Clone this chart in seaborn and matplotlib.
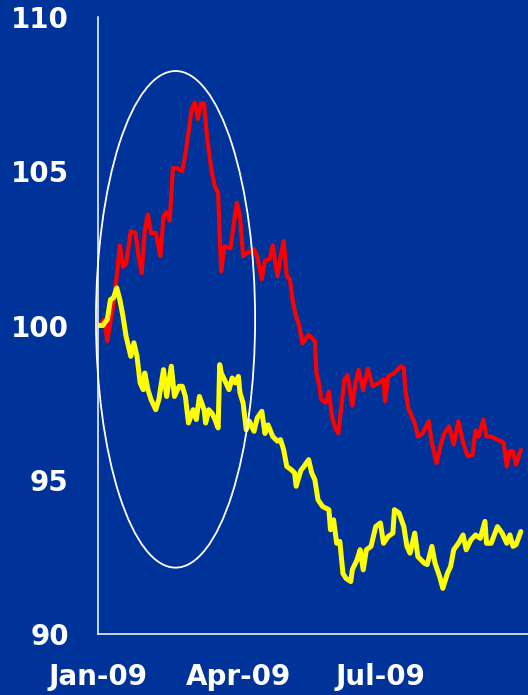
import matplotlib
matplotlib.use("Agg")
import matplotlib.pyplot as plt
import matplotlib.dates as mdates
from matplotlib.patches import Ellipse
from matplotlib.ticker import FixedLocator
import seaborn as sns
import pandas as pd

# Index levels, 2009 (start = 100)
red_dates = [
    "01-02", "01-05", "01-07", "01-11", "01-13", "01-15", "01-17", "01-19", "01-22", "01-25",
    "01-27", "01-29", "01-31", "02-02", "02-04", "02-07", "02-10", "02-12", "02-14", "02-16",
    "02-18", "02-21", "02-24", "02-26", "02-28", "03-02", "03-04", "03-06", "03-08", "03-10",
    "03-12", "03-15", "03-17", "03-19", "03-20", "03-21", "03-23", "03-27", "03-29", "03-31",
    "04-02", "04-04", "04-07", "04-11", "04-13", "04-16", "04-18", "04-21", "04-23", "04-26",
    "04-28", "04-30", "05-02", "05-04", "05-06", "05-08", "05-10", "05-12", "05-16", "05-20",
    "05-21", "05-23", "05-24", "05-27", "05-29", "05-31", "06-02", "06-04", "06-06", "06-08",
    "06-10", "06-13", "06-15", "06-17", "06-20", "06-23", "06-26", "06-30", "07-03", "07-04",
    "07-06", "07-10", "07-14", "07-16", "07-17", "07-18", "07-19", "07-23", "07-25", "07-28",
    "08-01", "08-03", "08-06", "08-09", "08-11", "08-14", "08-17", "08-20", "08-23", "08-26",
    "08-29", "08-31", "09-02", "09-05", "09-07", "09-10", "09-14", "09-18", "09-20", "09-22",
    "09-24", "09-26", "09-29",
]
red_values = [
    100.0, 100.2, 99.5, 100.74, 101.6, 102.6, 101.9, 102.0, 103.06, 103.0,
    102.25, 101.7, 103.1, 103.6, 103.0, 103.0, 102.25, 103.55, 103.67, 103.4,
    105.1, 105.1, 105.0, 105.55, 106.25, 107.0, 107.23, 106.7, 107.2, 107.2,
    106.04, 104.96, 104.5, 104.3, 102.9, 101.76, 102.57, 102.5, 103.3, 103.98,
    103.55, 102.25, 102.36, 102.47, 102.25, 101.5, 102.1, 102.15, 102.6, 101.6,
    102.2, 102.74, 101.6, 101.5, 100.74, 100.3, 100.0, 99.42, 99.7, 99.5,
    98.46, 98.03, 97.6, 97.5, 97.86, 97.05, 96.68, 96.5, 97.38, 98.25,
    98.4, 97.4, 98.1, 98.57, 97.9, 98.6, 98.03, 98.14, 98.25, 97.54,
    98.35, 98.46, 98.68, 98.63, 97.9, 97.6, 97.3, 96.84, 96.4, 96.5,
    96.9, 96.19, 95.54, 96.19, 96.5, 96.73, 96.14, 96.9, 96.2, 95.76,
    95.8, 96.6, 96.4, 96.95, 96.4, 96.4, 96.3, 96.2, 95.43, 95.92,
    95.92, 95.49, 95.97,
]

yellow_dates = [
    "01-02", "01-04", "01-07", "01-09", "01-11", "01-13", "01-15", "01-17", "01-19", "01-22",
    "01-24", "01-26", "01-28", "01-30", "01-31", "02-02", "02-04", "02-07", "02-09", "02-11",
    "02-12", "02-14", "02-16", "02-17", "02-19", "02-22", "02-24", "02-26", "02-28", "03-03",
    "03-05", "03-07", "03-10", "03-11", "03-13", "03-15", "03-17", "03-19", "03-20", "03-21",
    "03-23", "03-26", "03-28", "03-30", "04-01", "04-02", "04-04", "04-06", "04-08", "04-11",
    "04-13", "04-16", "04-18", "04-20", "04-23", "04-26", "04-28", "04-30", "05-02", "05-05",
    "05-07", "05-08", "05-11", "05-13", "05-16", "05-18", "05-20", "05-22", "05-25", "05-29",
    "05-30", "06-01", "06-03", "06-05", "06-07", "06-09", "06-12", "06-13", "06-16", "06-18",
    "06-20", "06-22", "06-25", "06-28", "07-01", "07-03", "07-06", "07-09", "07-10", "07-13",
    "07-16", "07-18", "07-20", "07-23", "07-25", "07-29", "07-31", "08-03", "08-05", "08-08",
    "08-10", "08-13", "08-15", "08-17", "08-20", "08-23", "08-25", "08-28", "08-31", "09-03",
    "09-06", "09-07", "09-10", "09-14", "09-17", "09-20", "09-22", "09-24", "09-26", "09-29",
]
yellow_values = [
    100.0, 100.0, 100.2, 100.84, 100.9, 101.22, 100.84, 100.3, 99.65, 99.0,
    99.44, 99.0, 98.14, 97.92, 98.46, 97.92, 97.6, 97.27, 97.6, 98.25,
    98.57, 97.7, 98.35, 98.68, 97.7, 98.03, 98.03, 97.7, 96.84, 97.27,
    96.95, 97.7, 97.27, 96.84, 97.27, 97.16, 96.95, 96.68, 98.73, 98.46,
    98.25, 97.92, 98.3, 98.14, 98.35, 97.82, 97.49, 96.62, 96.9, 96.57,
    97.0, 97.22, 96.5, 96.78, 96.4, 96.25, 96.3, 95.97, 95.43, 95.32,
    95.22, 94.79, 95.3, 95.43, 95.65, 95.22, 95.0, 94.35, 94.13, 94.03,
    93.38, 93.7, 92.94, 93.0, 91.96, 91.8, 91.7, 92.08, 92.4, 92.73,
    92.08, 92.73, 92.84, 93.48, 93.6, 92.94, 93.16, 93.27, 94.03, 93.92,
    93.48, 92.84, 92.62, 93.27, 92.51, 92.3, 92.25, 92.84, 92.3, 91.86,
    91.48, 91.97, 92.19, 92.73, 92.94, 93.21, 92.73, 93.05, 93.21, 93.1,
    93.65, 92.94, 92.94, 93.48, 93.27, 92.94, 93.21, 92.84, 92.9, 93.32,
]

y_ticks = [90, 95, 100, 105, 110]
x_tick_labels = ["Jan-09", "Apr-09", "Jul-09"]

BG = "#003399"
WHITE = "#ffffff"

red_df = pd.DataFrame({"date": pd.to_datetime(["2009-" + d for d in red_dates]),
                       "value": red_values})
yellow_df = pd.DataFrame({"date": pd.to_datetime(["2009-" + d for d in yellow_dates]),
                          "value": yellow_values})

sns.set_style("white")
plt.rcParams["font.family"] = ["DejaVu Sans"]
plt.rcParams["font.weight"] = "bold"

fig = plt.figure(figsize=(5.28, 6.95), dpi=100, facecolor=BG)
ax = fig.add_axes([0.1856, 0.0878, 0.8144, 0.8877])
ax.set_facecolor(BG)

sns.lineplot(data=red_df, x="date", y="value", ax=ax, color="#ff0000",
             linewidth=3.0, solid_joinstyle="round", solid_capstyle="round")
sns.lineplot(data=yellow_df, x="date", y="value", ax=ax, color="#ffff00",
             linewidth=3.6, solid_joinstyle="round", solid_capstyle="round")

# highlight ring around the first quarter
start = mdates.date2num(pd.Timestamp("2009-01-01"))
ring = Ellipse((start + 49.7, 100.2), width=102, height=16.1, fill=False,
               edgecolor=WHITE, linewidth=1.3, clip_on=False, zorder=5)
ax.add_patch(ring)

ax.set_xlim(start, start + 275.6)
ax.set_ylim(90, 110)
ax.set_xlabel("")
ax.set_ylabel("")

ax.set_yticks(y_ticks)
ax.set_yticklabels([str(v) for v in y_ticks])

major = [mdates.date2num(pd.Timestamp(d)) for d in ["2009-01-01", "2009-04-01", "2009-07-01"]]
ax.xaxis.set_major_locator(FixedLocator(major))
ax.set_xticklabels(x_tick_labels)
ax.xaxis.set_minor_locator(mdates.MonthLocator())

ax.tick_params(axis="y", direction="in", length=8, width=1.1, color="#d0d0d0",
               labelsize=20, labelcolor=WHITE, pad=21)
ax.tick_params(axis="x", which="major", direction="in", length=6.5, width=1.1,
               color=WHITE, labelsize=20, labelcolor=WHITE, pad=21)
ax.tick_params(axis="x", which="minor", direction="in", length=4.3, width=1.1,
               color=WHITE)
for lab in ax.get_xticklabels() + ax.get_yticklabels():
    lab.set_fontweight("bold")

for side in ("top", "right"):
    ax.spines[side].set_visible(False)
for side in ("left", "bottom"):
    ax.spines[side].set_color(WHITE)
    ax.spines[side].set_linewidth(1.1)

ax.grid(False)
fig.savefig("out.png", dpi=100, facecolor=BG)
